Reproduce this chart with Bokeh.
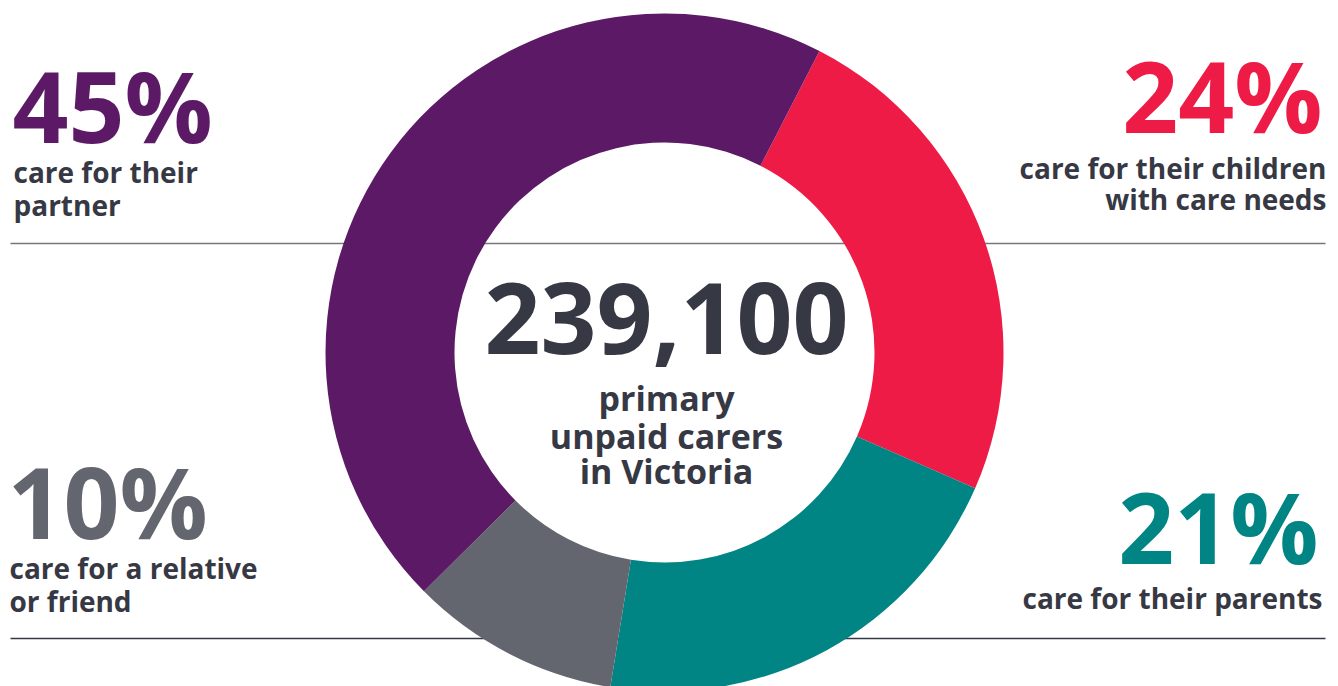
import math
from bokeh.plotting import figure
from bokeh.models import Range1d
from bokeh.core.properties import value
from bokeh.embed import file_html
from bokeh.resources import INLINE

# ---- data ----
categories = ["children", "parents", "relative", "partner"]
shares = [24, 21, 10, 45]  # percent, clockwise from top-right
colors = ["#EE1B47", "#008484", "#63666E", "#5C1A66"]
pct_labels = ["24%", "21%", "10%", "45%"]
desc_labels = [
    ["care for their children", "with care needs"],
    ["care for their parents"],
    ["care for a relative", "or friend"],
    ["care for their", "partner"],
]
total_text = "239,100"
total_desc = ["primary", "unpaid carers", "in Victoria"]

FONT = "Open Sans"
DARK = "#363844"

W, H = 1338, 686
p = figure(width=W, height=H, output_backend="svg", toolbar_location=None,
           x_range=Range1d(0, W), y_range=Range1d(-H, 0),
           min_border=0)
p.axis.visible = False
p.grid.visible = False
p.outline_line_color = None
p.background_fill_color = "white"
p.border_fill_color = "white"

# separator lines (behind the donut)
p.segment(x0=[10], y0=[-243], x1=[1325], y1=[-243], line_color="#77777B", line_width=1.5)
p.segment(x0=[10], y0=[-638], x1=[1325], y1=[-638], line_color=DARK, line_width=1.5)

# donut
cx, cy = 664, -352
R_out, R_in = 339, 210
offset = math.radians(27.2)
starts, ends = [], []
cum = 0.0
tot = float(sum(shares))
for s in shares:
    a0 = math.pi / 2 - offset - 2 * math.pi * cum / tot
    cum += s
    a1 = math.pi / 2 - offset - 2 * math.pi * cum / tot
    starts.append(a0)
    ends.append(a1)
p.annular_wedge(x=[cx] * 4, y=[cy] * 4, inner_radius=R_in, outer_radius=R_out,
                start_angle=starts, end_angle=ends, direction="clock",
                fill_color=colors, line_color=None)

K = 0.38  # renderer baseline compensation (fraction of font size)

def txt(x, py, t, size, color, align="left"):
    p.text(x=[x], y=[-(py - K * size)], text=[t], text_font=value(FONT),
           text_font_size=f"{size}px", text_font_style="bold",
           text_color=color, text_align=align, text_baseline="alphabetic")

BIG = 98
SM = 28
MID = 34
# top-left: partner
txt(12, 142, pct_labels[3], BIG, colors[3])
txt(13, 182, desc_labels[3][0], SM, DARK)
txt(13, 215, desc_labels[3][1], SM, DARK)
# top-right: children
txt(1322, 132, pct_labels[0], BIG, colors[0], "right")
txt(1326, 178, desc_labels[0][0], SM, DARK, "right")
txt(1326, 209, desc_labels[0][1], SM, DARK, "right")
# bottom-left: relative
txt(7, 538, pct_labels[2], BIG, colors[2])
txt(9, 578, desc_labels[2][0], SM, DARK)
txt(9, 611, desc_labels[2][1], SM, DARK)
# bottom-right: parents
txt(1318, 563, pct_labels[1], BIG, colors[1], "right")
txt(1322, 608, desc_labels[1][0], SM, DARK, "right")

# centre
txt(666, 355, total_text, BIG, DARK, "center")
txt(666, 410, total_desc[0], MID, DARK, "center")
txt(666, 448, total_desc[1], MID, DARK, "center")
txt(666, 483, total_desc[2], MID, DARK, "center")

open("out.html", "w").write(file_html(p, INLINE))
